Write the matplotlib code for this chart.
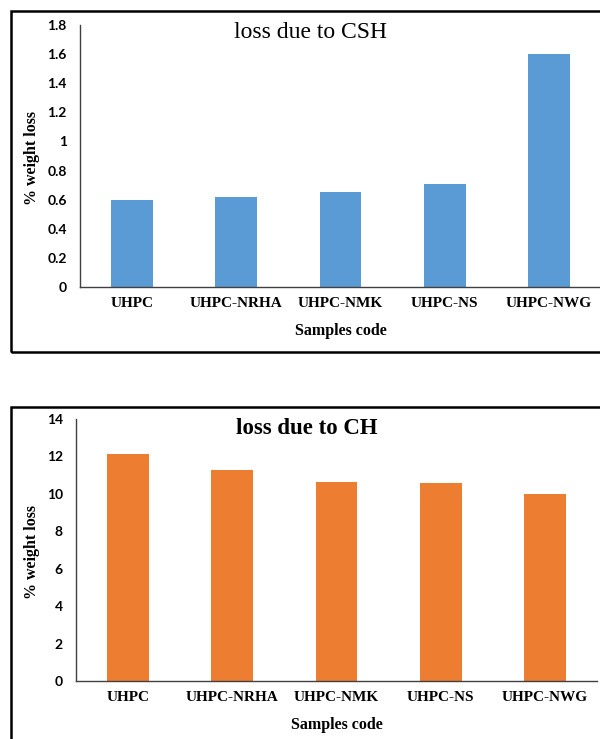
import matplotlib.pyplot as plt
from matplotlib.patches import Rectangle

samples = ["UHPC", "UHPC-NRHA", "UHPC-NMK", "UHPC-NS", "UHPC-NWG"]
csh_loss = [0.60, 0.62, 0.65, 0.71, 1.60]
ch_loss = [12.15, 11.3, 10.65, 10.6, 9.97]

csh_ticks = [0, 0.2, 0.4, 0.6, 0.8, 1.0, 1.2, 1.4, 1.6, 1.8]
csh_tick_labels = ["0", "0.2", "0.4", "0.6", "0.8", "1", "1.2", "1.4", "1.6", "1.8"]
ch_ticks = [0, 2, 4, 6, 8, 10, 12, 14]
ch_tick_labels = ["0", "2", "4", "6", "8", "10", "12", "14"]

serif = "Liberation Serif"
W, H = 600, 739
fig = plt.figure(figsize=(W / 100, H / 100), dpi=100)


def px(x0, y0, x1, y1):
    # pixel box (top-left origin) -> figure fraction [left, bottom, width, height]
    return [x0 / W, 1 - y1 / H, (x1 - x0) / W, (y1 - y0) / H]


def panel(rect, values, color, ticks, tick_labels, ymax):
    ax = fig.add_axes(rect)
    ax.bar(range(len(samples)), values, width=0.4, color=color)
    ax.set_xlim(-0.5, len(samples) - 0.5)
    ax.set_ylim(0, ymax)
    ax.set_yticks(ticks)
    ax.set_yticklabels(tick_labels, fontfamily="Lato", fontweight="bold", fontsize=10)
    ax.set_xticks(range(len(samples)))
    ax.set_xticklabels(samples, fontfamily=serif, fontweight="bold", fontsize=11)
    ax.tick_params(axis="y", length=0, pad=9.5)
    ax.tick_params(axis="x", length=0, pad=7.5)
    for s in ["top", "right"]:
        ax.spines[s].set_visible(False)
    for s in ["left", "bottom"]:
        ax.spines[s].set_color("#404040")
        ax.spines[s].set_linewidth(1.0)
    ax.set_xlabel("Samples code", fontfamily=serif, fontweight="bold", fontsize=11.5, labelpad=9)
    return ax


ax1 = panel(px(80, 25, 601, 287), csh_loss, "#5B9BD5", csh_ticks, csh_tick_labels, 1.8)
ax2 = panel(px(76, 419, 597, 681), ch_loss, "#ED7D31", ch_ticks, ch_tick_labels, 14)

for yc in (158, 552):
    fig.text(32 / W, 1 - yc / H, "% weight loss", fontfamily=serif, fontweight="bold",
             fontsize=11.5, rotation=90, ha="center", va="center")

fig.text(310 / W, 1 - 33 / H, "loss due to CSH", fontfamily=serif, fontsize=17,
         ha="center", va="center")
fig.text(307 / W, 1 - 428 / H, "loss due to CH", fontfamily=serif, fontweight="bold",
         fontsize=16.5, ha="center", va="center")

# outer frames around each panel
fig.patches.append(Rectangle((11 / W, 1 - 352 / H), 600 / W, 341 / H, transform=fig.transFigure,
                             fill=False, edgecolor="black", linewidth=1.8))
fig.patches.append(Rectangle((11 / W, -0.05), 600 / W, 1 - 407 / H + 0.05, transform=fig.transFigure,
                             fill=False, edgecolor="black", linewidth=1.8))

fig.savefig("out.png", dpi=100)
